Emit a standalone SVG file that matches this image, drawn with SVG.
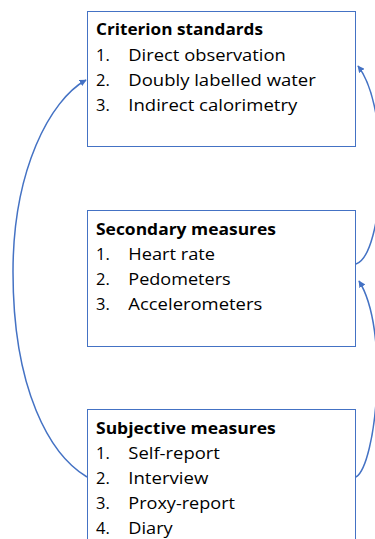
<svg xmlns="http://www.w3.org/2000/svg" width="375" height="539" viewBox="0 0 375 539">
<style>
  .box { fill: #ffffff; stroke: #4472C4; stroke-width: 1; }
  .t { font-family: "Open Sans", "Liberation Sans", sans-serif; font-size: 16.5px; fill: #000000; }
  .b { font-weight: bold; }
  .conn { fill: none; stroke: #4472C4; stroke-width: 1.5; }
</style>
<defs>
  <marker id="arr" viewBox="0 0 10 10" refX="9" refY="5" markerWidth="7" markerHeight="7" markerUnits="userSpaceOnUse" orient="auto">
    <path d="M0,0 L10,5 L0,10 z" fill="#4472C4"/>
  </marker>
</defs>
<rect width="375" height="539" fill="#ffffff"/>
<g id="criterion">
  <rect class="box" x="87.5" y="11.5" width="268" height="135"/>
  <text class="t b" x="96" y="35" textLength="167" lengthAdjust="spacingAndGlyphs">Criterion standards</text>
  <text class="t" x="96" y="60.5">1.</text><text class="t" x="128.3" y="60.5" textLength="157.5" lengthAdjust="spacingAndGlyphs">Direct observation</text>
  <text class="t" x="96" y="85.5">2.</text><text class="t" x="128.3" y="85.5" textLength="187.5" lengthAdjust="spacingAndGlyphs">Doubly labelled water</text>
  <text class="t" x="96" y="110.5">3.</text><text class="t" x="128.3" y="110.5" textLength="169" lengthAdjust="spacingAndGlyphs">Indirect calorimetry</text>
</g>
<g id="secondary">
  <rect class="box" x="87.5" y="210.5" width="268" height="136"/>
  <text class="t b" x="96" y="235" textLength="180" lengthAdjust="spacingAndGlyphs">Secondary measures</text>
  <text class="t" x="96" y="260">1.</text><text class="t" x="128.3" y="260" textLength="86.7" lengthAdjust="spacingAndGlyphs">Heart rate</text>
  <text class="t" x="96" y="285">2.</text><text class="t" x="128.3" y="285" textLength="102.4" lengthAdjust="spacingAndGlyphs">Pedometers</text>
  <text class="t" x="96" y="310">3.</text><text class="t" x="128.3" y="310" textLength="134" lengthAdjust="spacingAndGlyphs">Accelerometers</text>
</g>
<g id="subjective">
  <rect class="box" x="87.5" y="409.5" width="268" height="140"/>
  <text class="t b" x="96" y="434" textLength="179.7" lengthAdjust="spacingAndGlyphs">Subjective measures</text>
  <text class="t" x="96" y="459">1.</text><text class="t" x="128.3" y="459" textLength="91.6" lengthAdjust="spacingAndGlyphs">Self-report</text>
  <text class="t" x="96" y="484">2.</text><text class="t" x="128.3" y="484" textLength="80" lengthAdjust="spacingAndGlyphs">Interview</text>
  <text class="t" x="96" y="509">3.</text><text class="t" x="128.3" y="509" textLength="106.7" lengthAdjust="spacingAndGlyphs">Proxy-report</text>
  <text class="t" x="96" y="534">4.</text><text class="t" x="128.3" y="534" textLength="44.4" lengthAdjust="spacingAndGlyphs">Diary</text>
</g>
<g id="connectors">
  <path class="conn" d="M87,477 C50,455 13,390 13,272 C13,170 50,100 86,80" marker-end="url(#arr)"/>
  <path class="conn" d="M356,264 C384,255 392,110 358,66" marker-end="url(#arr)"/>
  <path class="conn" d="M356,477 C376,465 390,330 359,281" marker-end="url(#arr)"/>
</g>
</svg>
